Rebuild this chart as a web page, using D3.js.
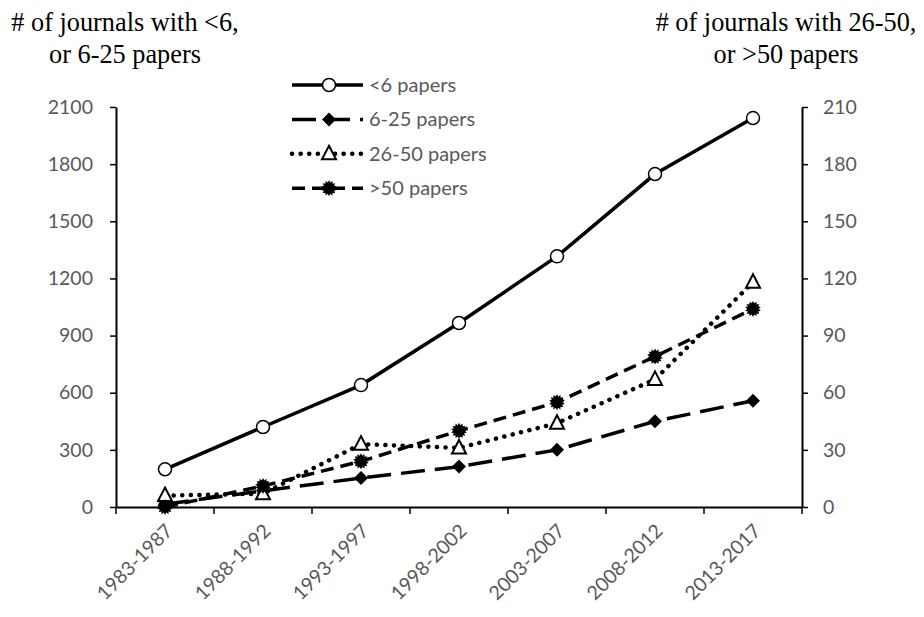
<!DOCTYPE html>
<html>
<head>
<meta charset="utf-8">
<script src="https://cdn.jsdelivr.net/npm/d3@7"></script>
<style>
  body { margin: 0; background: #fff; }
  svg { display: block; }
</style>
</head>
<body>
<svg width="924" height="617"></svg>
<script>
// Data
const periods = ["1983-1987", "1988-1992", "1993-1997", "1998-2002", "2003-2007", "2008-2012", "2013-2017"];
const lt6 = [198, 420, 640, 966, 1316, 1748, 2042];      // left axis
const p6to25 = [15, 85, 152, 212, 300, 450, 558];       // left axis
const p26to50 = [6, 7, 33, 31, 44, 67, 118];            // right axis
const gt50 = [0, 11, 24, 40, 55, 79, 104];              // right axis
const leftTicks = [0, 300, 600, 900, 1200, 1500, 1800, 2100];
const rightTicks = [0, 30, 60, 90, 120, 150, 180, 210];

const svg = d3.select("svg"),
    margin = { top: 107, right: 122, bottom: 110, left: 116 },
    width = 924 - margin.left - margin.right,
    height = 617 - margin.top - margin.bottom,
    g = svg.append("g").attr("transform", `translate(${margin.left},${margin.top})`);

const x = d3.scaleBand().domain(periods).range([0, width]);
const yL = d3.scaleLinear().domain([0, 2100]).range([height, 0]);
const yR = d3.scaleLinear().domain([0, 210]).range([height, 0]);

const tickColor = "#595959";
const font = "Lato, 'Open Sans', sans-serif";

// Axes
const styleAxis = sel => {
    sel.select(".domain").attr("stroke", "#000").attr("stroke-width", 2);
    sel.selectAll(".tick line").attr("stroke", "#000").attr("stroke-width", 1.5);
    sel.selectAll("text").attr("fill", tickColor).style("font-family", font).style("font-size", "19.5px");
};

const xAxis = g.append("g")
    .attr("transform", `translate(0,${height})`)
    .call(d3.axisBottom(x).tickSize(0).tickSizeOuter(0));
xAxis.call(styleAxis);
xAxis.selectAll(".tick text")
    .attr("text-anchor", "end")
    .attr("dx", 0).attr("dy", 0)
    .attr("transform", "translate(7,23) rotate(-45)");
// tick marks at category boundaries
g.append("g").selectAll("line")
    .data(periods.concat(["end"]))
    .enter().append("line")
    .attr("x1", (d, i) => i * x.step()).attr("x2", (d, i) => i * x.step())
    .attr("y1", height).attr("y2", height + 7)
    .attr("stroke", "#000").attr("stroke-width", 1.5);

const leftAxis = g.append("g")
    .call(d3.axisLeft(yL).tickValues(leftTicks).tickFormat(d3.format("d")).tickSize(6).tickSizeOuter(0).tickPadding(17));
leftAxis.call(styleAxis);

const rightAxis = g.append("g")
    .attr("transform", `translate(${width},0)`)
    .call(d3.axisRight(yR).tickValues(rightTicks).tickFormat(d3.format("d")).tickSize(6).tickSizeOuter(0).tickPadding(15));
rightAxis.call(styleAxis);

// Axis titles (serif)
const title = (xPos, lines) => {
    const t = svg.append("text")
        .attr("text-anchor", "middle")
        .attr("fill", "#000")
        .attr("font-size", 26.3)
        .style("font-family", "'Liberation Serif', 'Times New Roman', Times, serif");
    lines.forEach((l, i) => t.append("tspan").attr("x", xPos).attr("y", 31 + i * 32).text(l));
};
title(125, ["# of journals with <6,", "or 6-25 papers"]);
title(786, ["# of journals with 26-50,", "or >50 papers"]);

// Markers
function starPath(r) {
    const pts = [];
    const n = 14;
    for (let i = 0; i < n * 2; i++) {
        const a = (Math.PI * i) / n;
        const rr = i % 2 === 0 ? r : r * 0.72;
        pts.push([rr * Math.sin(a), -rr * Math.cos(a)]);
    }
    return "M" + pts.map(p => p.join(",")).join("L") + "Z";
}
const markers = {
    circle: sel => sel.append("circle").attr("r", 6.5).attr("fill", "#fff").attr("stroke", "#000").attr("stroke-width", 1.5),
    diamond: sel => sel.append("path").attr("d", "M0,-7L7,0L0,7L-7,0Z").attr("fill", "#000"),
    triangle: sel => sel.append("path").attr("d", "M0,-8L7,5.5L-7,5.5Z").attr("fill", "#fff").attr("stroke", "#000").attr("stroke-width", 2),
    star: sel => sel.append("path").attr("d", starPath(8)).attr("fill", "#000")
};

const series = [
    { name: "<6 papers", values: lt6, y: yL, dash: null, cap: "butt", marker: "circle" },
    { name: "6-25 papers", values: p6to25, y: yL, dash: "24,10", cap: "butt", marker: "diamond" },
    { name: "26-50 papers", values: p26to50, y: yR, dash: "0.1,8.5", cap: "round", marker: "triangle" },
    { name: ">50 papers", values: gt50, y: yR, dash: "13,7", cap: "butt", marker: "star" }
];

const cx = i => x(periods[i]) + x.bandwidth() / 2;

// lines first, markers on top
series.forEach(s => {
    const line = d3.line().x((d, i) => cx(i)).y(d => s.y(d));
    g.append("path")
        .datum(s.values)
        .attr("d", line)
        .attr("fill", "none")
        .attr("stroke", "#000")
        .attr("stroke-width", s.marker === "triangle" ? 4.5 : 3.5)
        .attr("stroke-linecap", s.cap)
        .attr("stroke-dasharray", s.dash);
});
series.forEach(s => {
    g.selectAll(null)
        .data(s.values)
        .enter().append("g")
        .attr("transform", (d, i) => `translate(${cx(i)},${s.y(d)})`)
        .call(markers[s.marker]);
});

// Legend
const legend = svg.append("g").attr("transform", "translate(292, 85)");
series.forEach((s, i) => {
    const row = legend.append("g").attr("transform", `translate(0, ${i * 34.4})`);
    row.append("line")
        .attr("x1", 0).attr("x2", 71).attr("y1", 0).attr("y2", 0)
        .attr("stroke", "#000")
        .attr("stroke-width", s.marker === "triangle" ? 4.5 : 3.5)
        .attr("stroke-linecap", s.cap)
        .attr("stroke-dasharray", s.dash);
    row.append("g").attr("transform", "translate(37,0)").call(markers[s.marker]);
    row.append("text")
        .attr("x", 77).attr("y", 7)
        .attr("fill", tickColor)
        .style("font-family", font)
        .style("font-size", "20px")
        .text(s.name);
});
</script>
</body>
</html>
